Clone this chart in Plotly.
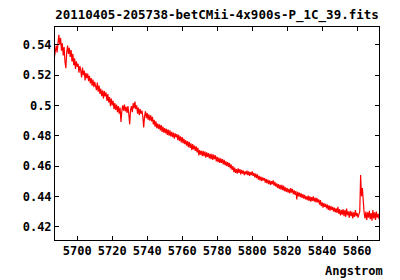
import plotly.graph_objects as go

title_text = "20110405-205738-betCMii-4x900s-P_1C_39.fits"
x_label = "Angstrom"

wavelength_start = 5687.0
wavelength_step = 0.5
flux = [
    0.5320, 0.5365, 0.5395, 0.5350, 0.5430, 0.5465, 0.5400, 0.5445, 0.5360, 0.5410,
    0.5330, 0.5385, 0.5290, 0.5245, 0.5350, 0.5395, 0.5340, 0.5380, 0.5320, 0.5365,
    0.5290, 0.5340, 0.5265, 0.5310, 0.5240, 0.5290, 0.5255, 0.5275, 0.5215, 0.5260,
    0.5230, 0.5185, 0.5250, 0.5200, 0.5230, 0.5165, 0.5215, 0.5180, 0.5210, 0.5160,
    0.5195, 0.5145, 0.5180, 0.5130, 0.5170, 0.5120, 0.5155, 0.5135, 0.5100, 0.5150,
    0.5090, 0.5130, 0.5075, 0.5110, 0.5060, 0.5100, 0.5045, 0.5095, 0.5060, 0.5085,
    0.5030, 0.5075, 0.5020, 0.5055, 0.4995, 0.5045, 0.5000, 0.5030, 0.4975, 0.5015,
    0.4970, 0.5005, 0.4955, 0.4995, 0.4945, 0.4985, 0.4890, 0.4960, 0.5000, 0.4965,
    0.5005, 0.4960, 0.4990, 0.4950, 0.4995, 0.4940, 0.4875, 0.4970, 0.4995, 0.4955,
    0.5015, 0.4980, 0.5025, 0.4975, 0.5000, 0.4945, 0.4985, 0.4935, 0.4975, 0.4945,
    0.4965, 0.4925, 0.4855, 0.4930, 0.4960, 0.4915, 0.4950, 0.4905, 0.4940, 0.4900,
    0.4935, 0.4895, 0.4925, 0.4875, 0.4905, 0.4860, 0.4895, 0.4850, 0.4880, 0.4845,
    0.4875, 0.4835, 0.4870, 0.4825, 0.4860, 0.4820, 0.4850, 0.4815, 0.4845, 0.4805,
    0.4840, 0.4800, 0.4835, 0.4795, 0.4825, 0.4790, 0.4820, 0.4780, 0.4815, 0.4790,
    0.4810, 0.4770, 0.4805, 0.4765, 0.4795, 0.4755, 0.4790, 0.4750, 0.4780, 0.4745,
    0.4770, 0.4735, 0.4765, 0.4725, 0.4760, 0.4720, 0.4750, 0.4705, 0.4745, 0.4710,
    0.4735, 0.4700, 0.4730, 0.4690, 0.4720, 0.4670, 0.4705, 0.4675, 0.4700, 0.4665,
    0.4700, 0.4665, 0.4695, 0.4655, 0.4690, 0.4660, 0.4685, 0.4650, 0.4680, 0.4645,
    0.4680, 0.4640, 0.4675, 0.4645, 0.4670, 0.4630, 0.4660, 0.4625, 0.4655, 0.4620,
    0.4650, 0.4620, 0.4645, 0.4610, 0.4640, 0.4605, 0.4630, 0.4600, 0.4625, 0.4595,
    0.4620, 0.4585, 0.4610, 0.4575, 0.4600, 0.4560, 0.4590, 0.4555, 0.4580, 0.4550,
    0.4585, 0.4555, 0.4580, 0.4545, 0.4575, 0.4550, 0.4570, 0.4540, 0.4565, 0.4545,
    0.4570, 0.4540, 0.4565, 0.4535, 0.4560, 0.4540, 0.4565, 0.4535, 0.4555, 0.4525,
    0.4550, 0.4520, 0.4545, 0.4510, 0.4535, 0.4505, 0.4530, 0.4500, 0.4525, 0.4505,
    0.4520, 0.4490, 0.4515, 0.4485, 0.4510, 0.4480, 0.4505, 0.4475, 0.4500, 0.4480,
    0.4505, 0.4470, 0.4495, 0.4465, 0.4485, 0.4455, 0.4480, 0.4450, 0.4475, 0.4445,
    0.4475, 0.4440, 0.4470, 0.4435, 0.4460, 0.4430, 0.4455, 0.4425, 0.4450, 0.4420,
    0.4455, 0.4425, 0.4450, 0.4415, 0.4440, 0.4410, 0.4435, 0.4380, 0.4430, 0.4400,
    0.4425, 0.4395, 0.4420, 0.4390, 0.4415, 0.4385, 0.4410, 0.4380, 0.4400, 0.4375,
    0.4405, 0.4370, 0.4400, 0.4365, 0.4395, 0.4370, 0.4400, 0.4365, 0.4390, 0.4360,
    0.4390, 0.4360, 0.4380, 0.4345, 0.4375, 0.4335, 0.4360, 0.4325, 0.4355, 0.4330,
    0.4350, 0.4320, 0.4345, 0.4310, 0.4340, 0.4305, 0.4335, 0.4310, 0.4330, 0.4300,
    0.4325, 0.4295, 0.4320, 0.4290, 0.4330, 0.4285, 0.4315, 0.4275, 0.4310, 0.4280,
    0.4315, 0.4270, 0.4310, 0.4265, 0.4320, 0.4275, 0.4300, 0.4260, 0.4305, 0.4270,
    0.4300, 0.4255, 0.4295, 0.4265, 0.4310, 0.4270, 0.4290, 0.4260, 0.4285, 0.4300,
    0.4540, 0.4400, 0.4455, 0.4350, 0.4290, 0.4255, 0.4300, 0.4245, 0.4295, 0.4260,
    0.4305, 0.4250, 0.4290, 0.4240, 0.4310, 0.4255, 0.4295, 0.4245, 0.4300, 0.4260,
    0.4285, 0.4250,
]
wavelength = [wavelength_start + wavelength_step * i for i in range(len(flux))]

x_ticks = [5700, 5720, 5740, 5760, 5780, 5800, 5820, 5840, 5860]
x_tick_labels = ["5700", "5720", "5740", "5760", "5780", "5800", "5820", "5840", "5860"]
y_ticks = [0.42, 0.44, 0.46, 0.48, 0.50, 0.52, 0.54]
y_tick_labels = ["0.42", "0.44", "0.46", "0.48", "0.5", "0.52", "0.54"]

font_family = "DejaVu Sans Mono"

fig = go.Figure()
fig.add_trace(go.Scatter(
    x=wavelength, y=flux, mode="lines",
    line=dict(color="#ff0000", width=1.2),
    showlegend=False,
))

axis_common = dict(
    showline=True, linecolor="black", linewidth=1, mirror="ticks",
    ticks="inside", ticklen=4, tickcolor="black", tickwidth=1,
    showgrid=False, zeroline=False,
    tickfont=dict(family=font_family, size=12, color="black", weight="bold"),
)

fig.update_layout(
    width=400, height=280,
    margin=dict(l=55, r=21, t=27, b=40),
    paper_bgcolor="white", plot_bgcolor="white",
    title=dict(
        text=title_text, x=0.5, xref="paper", xanchor="center",
        y=1 - 15 / 280, yref="container", yanchor="middle",
        font=dict(family=font_family, size=12.5, color="black", weight="bold"),
    ),
    xaxis=dict(range=[5687.3, 5872.5], tickvals=x_ticks, ticktext=x_tick_labels, **axis_common),
    yaxis=dict(range=[0.4112, 0.5517], tickvals=y_ticks, ticktext=y_tick_labels, **axis_common),
    annotations=[dict(
        text=x_label, xref="paper", yref="paper", x=(385 - 55) / 324, y=-31 / 213,
        xanchor="right", yanchor="middle", showarrow=False,
        font=dict(family=font_family, size=12, color="black", weight="bold"),
    )],
)

fig.write_html("out.html")
